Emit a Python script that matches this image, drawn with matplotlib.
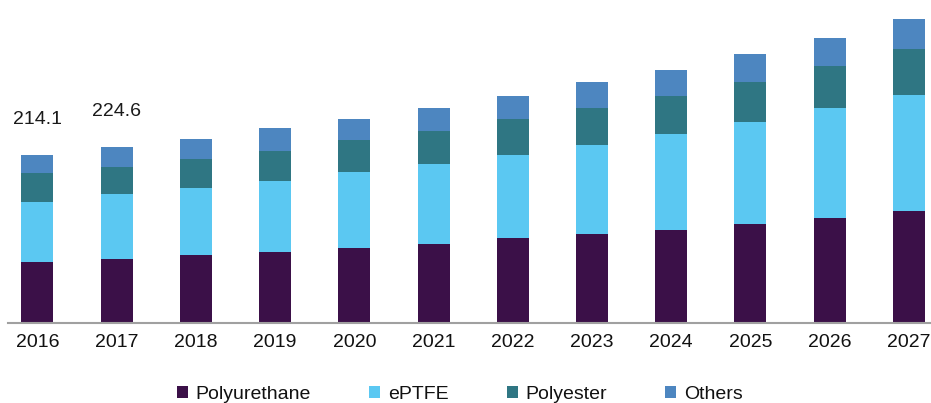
import numpy as np
import matplotlib.pyplot as plt
from matplotlib.patches import Patch

plt.rcParams['font.family'] = ['Liberation Sans', 'DejaVu Sans']

years = ['2016', '2017', '2018', '2019', '2020', '2021', '2022', '2023', '2024', '2025', '2026', '2027']
polyurethane = [77.8, 81.6, 86.6, 90.5, 95.6, 100.6, 107.7, 114.0, 119.1, 126.1, 133.8, 142.7]
eptfe = [76.5, 82.9, 85.4, 90.5, 96.8, 101.9, 105.7, 113.4, 122.3, 129.9, 140.1, 147.8]
polyester = [37.0, 34.5, 36.9, 38.2, 40.8, 42.0, 47.1, 47.1, 48.4, 51.0, 53.5, 58.6]
others = [22.8, 25.6, 25.5, 29.3, 26.8, 29.3, 29.3, 31.9, 33.1, 35.7, 35.7, 38.2]
labels = {0: '214.1', 1: '224.6'}

names = ['Polyurethane', 'ePTFE', 'Polyester', 'Others']
colors = ['#3b1048', '#5bc8f2', '#2f7683', '#4d86c0']

fig = plt.figure(figsize=(9.31, 4.03), dpi=100)
ax = fig.add_axes([8/931, 80/403, 923/931, 318/403])

x = np.arange(len(years))
bottom = np.zeros(len(years))
for vals, c in zip([polyurethane, eptfe, polyester, others], colors):
    ax.bar(x, vals, width=0.404, bottom=bottom, color=c)
    bottom += np.array(vals)

for i, t in labels.items():
    ax.text(x[i], bottom[i] + 35 * 1.274, t, ha='center', va='center', fontsize=14, color='#1a1a1a')

ax.set_xlim(-0.372, 11.28)
ax.set_ylim(0, 318 * 1.274)
ax.set_xticks(x)
ax.set_xticklabels(years, fontsize=14, color='#111111')
ax.tick_params(axis='x', length=0, pad=8)
ax.set_yticks([])
for s in ['top', 'right', 'left']:
    ax.spines[s].set_visible(False)
ax.spines['bottom'].set_color('#a0a0a0')
ax.spines['bottom'].set_linewidth(1.5)

handles = [Patch(facecolor=c, label=n) for n, c in zip(names, colors)]
fig.legend(handles=handles, loc='center', bbox_to_anchor=(0.494, 0.022), ncol=4, frameon=False,
           fontsize=14, handlelength=0.55, handleheight=0.55, handletextpad=0.4, columnspacing=3.0,
           labelcolor='#111111')

fig.savefig('out.png', dpi=100)
